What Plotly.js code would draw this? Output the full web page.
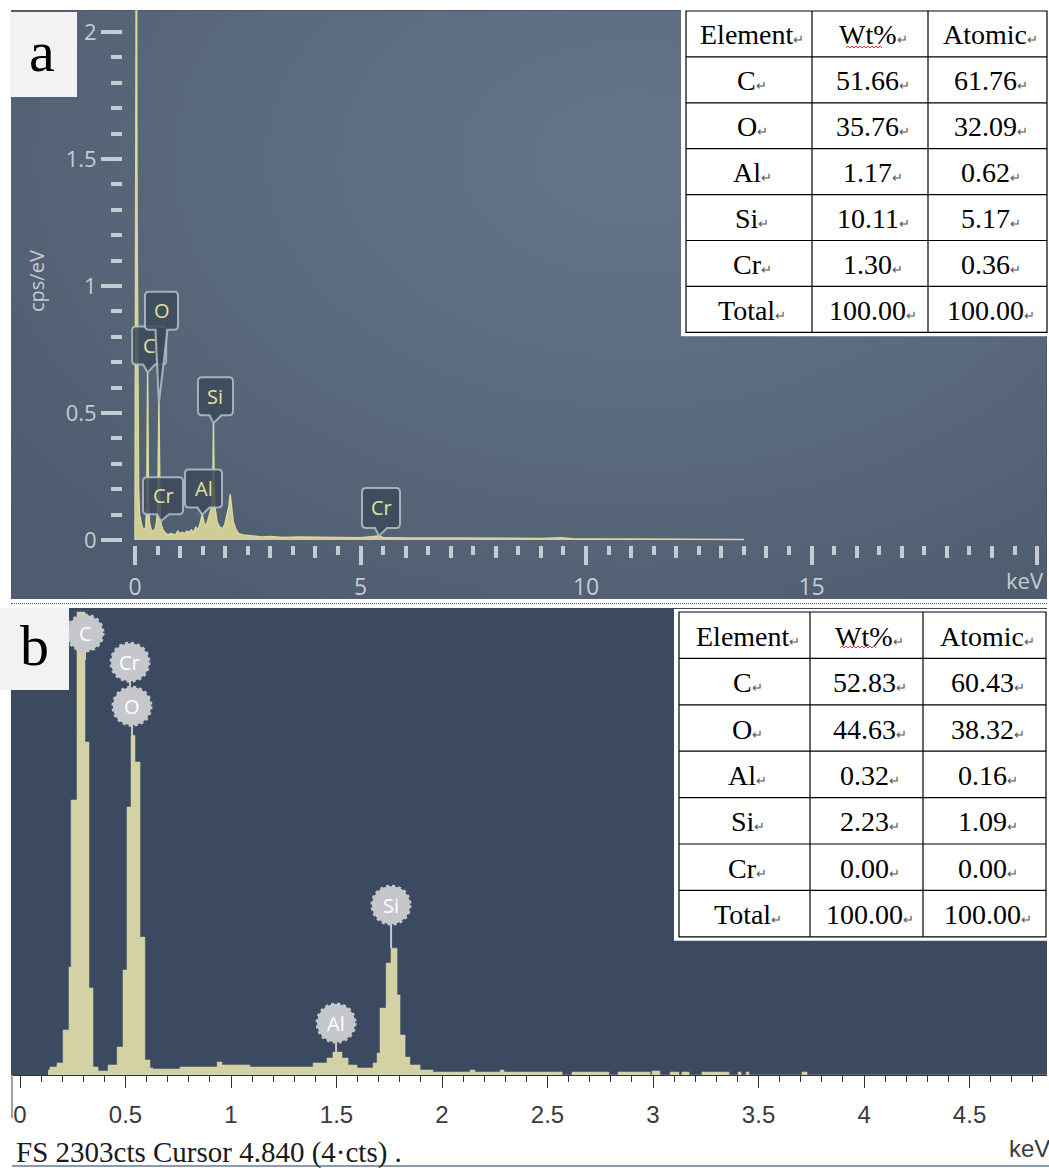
<!DOCTYPE html>
<html>
<head>
<meta charset="utf-8">
<script src="https://cdn.plot.ly/plotly-3.0.1.min.js"></script>
<style>
  html, body { margin: 0; padding: 0; background: #ffffff; }
  #wrap { position: relative; width: 1049px; height: 1168px; overflow: hidden; background: #ffffff; }
  #bgA {
    position: absolute; left: 11px; top: 10px; width: 1036px; height: 589px; box-sizing: border-box;
    border: 1px dotted #555;
    background: radial-gradient(ellipse 75% 90% at 60% 25%, #647589 0%, #5b6b7e 50%, #4d5c6e 100%);
  }
  #sepB { position: absolute; left: 11px; top: 603px; width: 1036px; height: 0; border-top: 1px dotted #555; }
  #chart { position: absolute; left: 0; top: 0; width: 1049px; height: 1168px; }
</style>
</head>
<body>
<div id="wrap">
  <div id="bgA"></div>
  <div id="sepB"></div>
  <div id="chart"></div>
</div>
<script>
// ---------- Spectrum (a): energy (keV) vs intensity (cps/eV) ----------
const energyA = [0, 0.015, 0.03, 0.045, 0.06, 0.08, 0.1, 0.13, 0.16, 0.2, 0.24, 0.26, 0.27, 0.28, 0.29, 0.3, 0.32,
  0.36, 0.4, 0.44, 0.48, 0.5, 0.515, 0.53, 0.545, 0.56, 0.58, 0.62, 0.66, 0.72, 0.8, 0.9, 0.95, 1.0, 1.05, 1.1,
  1.15, 1.2, 1.25, 1.3, 1.35, 1.4, 1.45, 1.49, 1.53, 1.57, 1.62, 1.66, 1.7, 1.725, 1.74, 1.755, 1.78, 1.82, 1.88,
  1.94, 1.99, 2.04, 2.08, 2.11, 2.14, 2.18, 2.24, 2.3, 2.4, 2.6, 2.8, 3.0, 3.3, 3.6, 4.0, 4.5, 5.0, 5.3, 5.41,
  5.5, 6.0, 7.0, 8.0, 9.0, 9.45, 9.7, 11.0, 12.5, 13.5];
const cpsA = [0, 1.25, 2.6, 1.3, 0.5, 0.2, 0.1, 0.07, 0.05, 0.04, 0.05, 0.15, 0.4, 0.66, 0.4, 0.15, 0.07,
  0.04, 0.035, 0.04, 0.07, 0.12, 0.3, 0.54, 0.3, 0.1, 0.06, 0.04, 0.03, 0.02, 0.025, 0.02, 0.035, 0.025, 0.03, 0.025,
  0.035, 0.03, 0.04, 0.03, 0.05, 0.04, 0.07, 0.1, 0.07, 0.05, 0.08, 0.11, 0.13, 0.2, 0.46, 0.2, 0.12, 0.07, 0.05,
  0.045, 0.06, 0.1, 0.13, 0.18, 0.12, 0.07, 0.04, 0.025, 0.02, 0.015, 0.012, 0.014, 0.01, 0.012, 0.01, 0.01, 0.009, 0.012, 0.016,
  0.01, 0.008, 0.008, 0.007, 0.006, 0.009, 0.005, 0.004, 0.003, 0.002];

// ---------- Spectrum (b): channel start energy (keV) and counts ----------
const energyB = [0.133, 0.142, 0.175, 0.204, 0.232, 0.242, 0.270, 0.308, 0.327, 0.346, 0.370, 0.417, 0.460,
  0.488, 0.507, 0.526, 0.545, 0.569, 0.592, 0.616, 0.630, 0.758, 0.934, 0.957, 1.090, 1.389, 1.455, 1.483,
  1.526, 1.555, 1.597, 1.673, 1.692, 1.706, 1.735, 1.758, 1.787, 1.801, 1.825, 1.848, 1.896, 1.957, 2.133,
  2.156, 2.275, 2.294, 2.569, 2.616, 2.791, 2.834, 2.986, 2.995, 3.033, 3.081, 3.123, 3.137, 3.171, 3.232,
  3.360, 3.403, 3.417, 3.441, 3.455, 3.706, 3.730, 4.867];
const countsB = [25, 40, 60, 224, 537, 1368, 2303, 1656, 433, 40, 20, 50, 139,
  522, 1333, 1690, 1557, 686, 75, 35, 30, 40, 65, 50, 40, 60, 85, 114,
  85, 50, 35, 60, 109, 333, 557, 631, 398, 199, 89, 50, 25, 15, 25,
  15, 25, 15, 0, 15, 0, 15, 0, 20, 0, 15, 0, 15, 0, 15,
  0, 15, 0, 15, 0, 15, 0, 0];
const fullScaleB = 2303;

// ---------- Quantification tables ----------
const tableHeader = ['Element', 'Wt%', 'Atomic'];
const elements = ['C', 'O', 'Al', 'Si', 'Cr', 'Total'];
const wtA = ['51.66', '35.76', '1.17', '10.11', '1.30', '100.00'];
const atA = ['61.76', '32.09', '0.62', '5.17', '0.36', '100.00'];
const wtB = ['52.83', '44.63', '0.32', '2.23', '0.00', '100.00'];
const atB = ['60.43', '38.32', '0.16', '1.09', '0.00', '100.00'];

// ---------- Peak identification labels ----------
const labelElemA = ['C', 'O', 'Cr', 'Al', 'Si', 'Cr'];
const labelEnergyA = [0.28, 0.53, 0.573, 1.49, 1.74, 5.41];
const labelElemB = ['C', 'O', 'Cr', 'Al', 'Si'];
const labelEnergyB = [0.277, 0.525, 0.525, 1.486, 1.74];

// axis tick labels
const tickValsA = [0, 5, 10, 15, 20];
const tickTextA = ['0', '5', '10', '15', ''];
const captionB = 'FS 2303cts Cursor 4.840 (4·cts) .';

// ---------- page geometry helpers ----------
const W = 1049, H = 1168;
const fx = px => px / W;
const fy = py => 1 - py / H;

// intensity of spectrum (a) at an energy (linear between samples)
function interpA(e) {
  for (let i = 0; i < energyA.length - 1; i++) {
    if (e >= energyA[i] && e <= energyA[i + 1]) {
      const t = (e - energyA[i]) / (energyA[i + 1] - energyA[i]);
      return cpsA[i] + t * (cpsA[i + 1] - cpsA[i]);
    }
  }
  return 0;
}
// highest channel of spectrum (b) near an energy
function peakB(e) {
  let m = 0;
  for (let i = 0; i < energyB.length - 1; i++) {
    if (energyB[i] < e + 0.03 && energyB[i + 1] > e - 0.03) m = Math.max(m, countsB[i]);
  }
  return m;
}

const shapes = [];
const annotations = [];

// panel (b) background
shapes.push({type: 'rect', xref: 'paper', yref: 'paper', x0: fx(11), x1: fx(1047), y0: fy(1075), y1: fy(608),
  fillcolor: '#3b4a60', line: {width: 0}, layer: 'below'});

// callout labels for spectrum (a): rounded box with a pointer down to the peak
const calloutA = {
  dx:   [1.5, 2.6, 2.2, 1.3, 2.0, 2.0],
  lift: [8, 73, 7, 7, 8, 8],
  w:    [34, 33, 40, 37, 35, 38],
  h:    [38, 38, 37, 38, 38, 40]
};
function calloutPath(dx, lift, w, h) {
  const x0 = dx - w / 2, x1 = dx + w / 2, yb = lift, yt = lift + h, r = 4, pw = 6;
  return `M${x0 + r},${yt} L${x1 - r},${yt} Q${x1},${yt} ${x1},${yt - r} L${x1},${yb + r} Q${x1},${yb} ${x1 - r},${yb} ` +
         `L${dx + pw},${yb} L0,0 L${dx - pw},${yb} L${x0 + r},${yb} Q${x0},${yb} ${x0},${yb + r} L${x0},${yt - r} Q${x0},${yt} ${x0 + r},${yt} Z`;
}
labelElemA.forEach((el, i) => {
  const e = labelEnergyA[i], v = interpA(e);
  shapes.push({
    type: 'path', xref: 'x', yref: 'y', xsizemode: 'pixel', ysizemode: 'pixel', xanchor: e, yanchor: v,
    path: calloutPath(calloutA.dx[i], calloutA.lift[i], calloutA.w[i], calloutA.h[i]),
    fillcolor: 'rgba(60,74,90,0.85)', line: {color: 'rgba(190,197,205,0.8)', width: 2}
  });
  annotations.push({
    xref: 'x', yref: 'y', x: e, y: v, xshift: calloutA.dx[i], yshift: calloutA.lift[i] + calloutA.h[i] / 2,
    text: el, showarrow: false, xanchor: 'center', yanchor: 'middle',
    font: {family: 'Open Sans, Noto Sans, sans-serif', size: 20, color: '#e4e0a0'}
  });
});

// round markers for spectrum (b)
const markerB = {
  dx:   [6.6, 1.2, -0.8, 2.5, 3.9],
  dy:   [-21, 29, 73, 29, 43],
  r:    [18, 19, 19, 19, 19],
  stem: [-48, 0, 48, 0, 0]
};
labelElemB.forEach((el, i) => {
  const e = labelEnergyB[i], v = peakB(e);
  const cx = markerB.dx[i], cy = markerB.dy[i], r = markerB.r[i];
  shapes.push({
    type: 'line', xref: 'x2', yref: 'y2', xsizemode: 'pixel', ysizemode: 'pixel', xanchor: e, yanchor: v,
    x0: cx, x1: cx, y0: cy - r + 1, y1: markerB.stem[i], line: {color: '#c4c6ca', width: 2}
  });
  shapes.push({
    type: 'circle', xref: 'x2', yref: 'y2', xsizemode: 'pixel', ysizemode: 'pixel', xanchor: e, yanchor: v,
    x0: cx - r, x1: cx + r, y0: cy - r, y1: cy + r,
    fillcolor: '#c5c7cb', line: {color: '#c5c7cb', width: 3, dash: 'dot'}
  });
  annotations.push({
    xref: 'x2', yref: 'y2', x: e, y: v, xshift: cx, yshift: cy, text: el, showarrow: false,
    xanchor: 'center', yanchor: 'middle', font: {family: 'Open Sans, Noto Sans, sans-serif', size: 20, color: '#ffffff'}
  });
});

// ---------- quantification tables: grid lines and cell text ----------
const mark = s => s + '<span style="font-size:13px;color:#555">↵</span>';
const tableFont = {family: 'Liberation Serif, Times New Roman, serif', size: 28, color: '#000'};
function drawTable(cols, top, rowH, columns) {
  const nRows = columns[0].length;
  const bottom = top + rowH * nRows;
  // white backing and outer frame
  shapes.push({type: 'rect', xref: 'paper', yref: 'paper', x0: fx(cols[0] - 5), x1: fx(Math.min(W, cols[cols.length - 1] + 3)),
    y0: fy(bottom + 4), y1: fy(top - 3), fillcolor: '#ffffff', line: {width: 0}});
  shapes.push({type: 'rect', xref: 'paper', yref: 'paper', x0: fx(cols[0]), x1: fx(cols[cols.length - 1]),
    y0: fy(bottom), y1: fy(top), line: {color: '#000', width: 1.2}});
  for (let c = 1; c < cols.length - 1; c++) {
    shapes.push({type: 'line', xref: 'paper', yref: 'paper', x0: fx(cols[c]), x1: fx(cols[c]), y0: fy(bottom), y1: fy(top),
      line: {color: '#000', width: 1.2}});
  }
  for (let r = 1; r < nRows; r++) {
    const y = top + r * rowH;
    shapes.push({type: 'line', xref: 'paper', yref: 'paper', x0: fx(cols[0]), x1: fx(cols[cols.length - 1]), y0: fy(y), y1: fy(y),
      line: {color: '#000', width: 1.2}});
  }
  columns.forEach((col, c) => {
    const cx = (cols[c] + cols[c + 1]) / 2 + 3;
    col.forEach((txt, r) => {
      annotations.push({xref: 'paper', yref: 'paper', x: fx(cx), y: fy(top + (r + 0.5) * rowH + 1),
        text: mark(txt), showarrow: false, xanchor: 'center', yanchor: 'middle', font: tableFont});
    });
  });
}
drawTable([686, 812, 928, 1047], 11, 45.9,
  [[tableHeader[0], ...elements], [tableHeader[1], ...wtA], [tableHeader[2], ...atA]]);
drawTable([679, 810, 923, 1046], 612, 46.4,
  [[tableHeader[0], ...elements], [tableHeader[1], ...wtB], [tableHeader[2], ...atB]]);

// red spelling squiggle under the Wt% headers
function squiggle(len) {
  let p = 'M0,0';
  for (let x = 2, k = 1; x <= len; x += 2, k++) p += ` L${x},${k % 2 ? 2 : 0}`;
  return p;
}
[[846, 883, 48], [840, 877, 648]].forEach(([a, b, y]) => {
  shapes.push({type: 'path', xref: 'paper', yref: 'paper', xsizemode: 'pixel', ysizemode: 'pixel',
    xanchor: fx(a), yanchor: fy(y), path: squiggle(b - a), line: {color: '#e0342c', width: 1}});
});

// panel letters
shapes.push({type: 'rect', xref: 'paper', yref: 'paper', x0: fx(10), x1: fx(77), y0: fy(97), y1: fy(12),
  fillcolor: '#f2f2f2', line: {width: 0}});
shapes.push({type: 'rect', xref: 'paper', yref: 'paper', x0: fx(0), x1: fx(69), y0: fy(690), y1: fy(608),
  fillcolor: '#f2f2f2', line: {width: 0}});
annotations.push({xref: 'paper', yref: 'paper', x: fx(42), y: fy(52), text: 'a', showarrow: false,
  xanchor: 'center', yanchor: 'middle', font: {family: 'Liberation Serif, Times New Roman, serif', size: 58, color: '#000'}});
annotations.push({xref: 'paper', yref: 'paper', x: fx(34), y: fy(645), text: 'b', showarrow: false,
  xanchor: 'center', yanchor: 'middle', font: {family: 'Liberation Serif, Times New Roman, serif', size: 58, color: '#000'}});

// axis captions
annotations.push({xref: 'paper', yref: 'paper', x: fx(36), y: fy(281), text: 'cps/eV', showarrow: false, textangle: -90,
  xanchor: 'center', yanchor: 'middle', font: {family: 'Open Sans, Noto Sans, sans-serif', size: 20, color: '#c6cbd1'}});
annotations.push({xref: 'paper', yref: 'paper', x: fx(1025), y: fy(580), text: 'keV', showarrow: false,
  xanchor: 'center', yanchor: 'middle', font: {family: 'Open Sans, Noto Sans, sans-serif', size: 22, color: '#c6cbd1'}});
annotations.push({xref: 'paper', yref: 'paper', x: fx(1029), y: fy(1148), text: 'keV', showarrow: false,
  xanchor: 'center', yanchor: 'middle', font: {family: 'Liberation Sans, Arial, sans-serif', size: 24, color: '#3a3a3a'}});
annotations.push({xref: 'paper', yref: 'paper', x: fx(14), y: fy(1152), text: captionB, showarrow: false,
  xanchor: 'left', yanchor: 'middle', font: {family: 'Liberation Serif, Times New Roman, serif', size: 29, color: '#1a1a1a'}});

// frame lines below panel (b)
shapes.push({type: 'line', xref: 'paper', yref: 'paper', x0: fx(12), x1: fx(1049), y0: fy(1166), y1: fy(1166),
  line: {color: '#8c9aab', width: 2}});
shapes.push({type: 'line', xref: 'paper', yref: 'paper', x0: fx(12), x1: fx(12), y0: fy(1118), y1: fy(1075),
  line: {color: '#444', width: 1}});

const traces = [
  {
    type: 'scatter', mode: 'lines', x: energyA, y: cpsA, xaxis: 'x', yaxis: 'y',
    line: {color: '#dcd89b', width: 1.5}, fill: 'tozeroy', fillcolor: 'rgba(220,216,155,0.9)',
    hoverinfo: 'x+y', showlegend: false
  },
  {type: 'scatter', mode: 'lines', x: [], y: [], xaxis: 'x3', yaxis: 'y', hoverinfo: 'skip', showlegend: false},
  {
    type: 'scatter', mode: 'lines', x: energyB, y: countsB, xaxis: 'x2', yaxis: 'y2',
    line: {color: '#d3d2a5', width: 0.5, shape: 'hv'}, fill: 'tozeroy', fillcolor: '#d3d2a5',
    hoverinfo: 'x+y', showlegend: false
  }
];

const tickA = '#c6cbd1';
const layout = {
  width: W, height: H,
  margin: {l: 0, r: 0, t: 0, b: 0},
  paper_bgcolor: 'rgba(0,0,0,0)', plot_bgcolor: 'rgba(0,0,0,0)',
  showlegend: false,
  xaxis: {
    domain: [fx(123), fx(1047)], range: [-0.266, 20.22], anchor: 'y',
    tickmode: 'array', tickvals: tickValsA, ticktext: tickTextA,
    ticks: 'outside', ticklen: 19, tickwidth: 4, tickcolor: tickA,
    minor: {ticks: 'outside', tickmode: 'linear', tick0: 0, dtick: 0.5, ticklen: 9, tickwidth: 4, tickcolor: tickA},
    tickfont: {family: 'Open Sans, Noto Sans, sans-serif', size: 23, color: tickA},
    ticklabelstandoff: 2,
    showgrid: false, zeroline: false, showline: false, fixedrange: true
  },
  xaxis3: {
    overlaying: 'x', anchor: 'y', range: [-0.266, 20.22],
    tickmode: 'linear', tick0: 0, dtick: 1, ticks: 'outside', ticklen: 12, tickwidth: 4, tickcolor: tickA,
    showticklabels: false, showgrid: false, zeroline: false, showline: false, fixedrange: true
  },
  yaxis: {
    domain: [fy(545), fy(10)], range: [-0.0197, 2.087], anchor: 'x',
    tickmode: 'linear', tick0: 0, dtick: 0.5,
    ticks: 'outside', ticklen: 21, tickwidth: 4, tickcolor: tickA,
    minor: {ticks: 'outside', tickmode: 'linear', tick0: 0, dtick: 0.1, ticklen: 11, tickwidth: 4, tickcolor: tickA},
    tickfont: {family: 'Open Sans, Noto Sans, sans-serif', size: 22, color: tickA},
    showgrid: false, zeroline: false, showline: false, fixedrange: true
  },
  xaxis2: {
    domain: [fx(13), fx(1047)], range: [-0.0332, 4.867], anchor: 'y2',
    tickmode: 'linear', tick0: 0, dtick: 0.5,
    ticks: 'outside', ticklen: 12, tickwidth: 1, tickcolor: '#333',
    minor: {ticks: 'outside', tickmode: 'linear', tick0: 0, dtick: 0.1, ticklen: 6, tickwidth: 1, tickcolor: '#333'},
    tickfont: {family: 'Liberation Sans, Arial, sans-serif', size: 24, color: '#3a3a3a'},
    ticklabelstandoff: 6,
    showline: true, linecolor: '#333', linewidth: 1,
    showgrid: false, zeroline: false, fixedrange: true
  },
  yaxis2: {
    domain: [fy(1075), fy(608)], range: [0, fullScaleB + 20], anchor: 'x2',
    visible: false, fixedrange: true
  },
  shapes: shapes,
  annotations: annotations
};

Plotly.newPlot('chart', traces, layout, {staticPlot: true, displayModeBar: false});
</script>
</body>
</html>
